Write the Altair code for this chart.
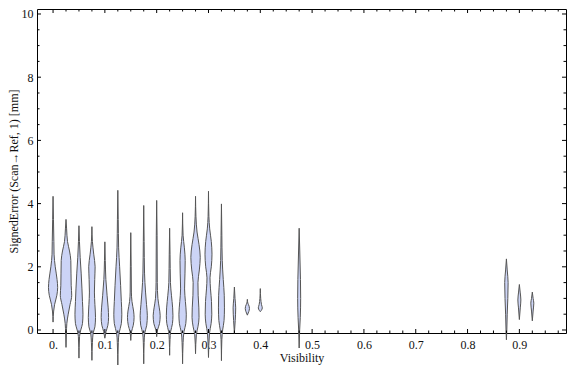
import altair as alt
import pandas as pd

# Visibility bins (x positions of the violins)
visibility = [0.0, 0.025, 0.05, 0.075, 0.1, 0.125, 0.15, 0.175, 0.2, 0.225, 0.25,
              0.275, 0.3, 0.325, 0.35, 0.375, 0.4, 0.475, 0.875, 0.9, 0.925]

# violin outline knots: SignedError values (mm)
violin_y = [
    [4.23, 3.5, 2.8, 2.4, 2.0, 1.6, 1.35, 1.1, 0.8, 0.6, 0.25],
    [3.5, 3.2, 2.8, 2.5, 2.2, 1.8, 1.4, 1.1, 0.8, 0.5, 0.2, -0.1, -0.55],
    [3.3, 2.8, 2.3, 1.8, 1.3, 0.9, 0.5, 0.2, 0.0, -0.2, -0.89],
    [3.27, 2.8, 2.4, 2.0, 1.6, 1.2, 0.8, 0.4, 0.1, -0.1, -0.4, -0.96],
    [2.79, 2.2, 1.6, 1.1, 0.7, 0.4, 0.15, -0.05, -0.26],
    [4.42, 3.5, 2.6, 2.0, 1.4, 0.9, 0.5, 0.2, -0.1, -0.4, -1.17],
    [3.08, 2.0, 1.2, 0.9, 0.6, 0.4, 0.15, -0.05, -0.33],
    [3.94, 2.8, 1.8, 1.2, 0.8, 0.45, 0.15, -0.1, -0.4, -1.07],
    [4.1, 3.0, 1.5, 1.0, 0.7, 0.45, 0.2, 0.0, -0.21],
    [3.22, 2.4, 1.5, 1.1, 0.7, 0.45, 0.2, -0.05, -0.3, -0.8],
    [3.71, 3.0, 2.6, 2.2, 1.8, 1.3, 0.9, 0.5, 0.2, -0.05, -0.4, -1.07],
    [4.23, 3.6, 3.1, 2.7, 2.3, 1.9, 1.5, 1.1, 0.7, 0.4, 0.1, -0.15, -0.75],
    [4.39, 3.6, 3.2, 2.8, 2.4, 2.0, 1.65, 1.3, 0.9, 0.5, 0.2, -0.1, -0.87],
    [3.99, 3.0, 2.2, 1.6, 1.1, 0.7, 0.3, 0.0, -0.3, -0.97],
    [1.36, 1.0, 0.7, 0.3, -0.1],
    [0.97, 0.85, 0.75, 0.68, 0.58, 0.47],
    [1.31, 1.0, 0.8, 0.7, 0.62, 0.58],
    [3.22, 2.5, 1.6, 1.0, 0.4, 0.0, -0.57],
    [2.25, 1.9, 1.5, 1.0, 0.5, 0.0, -0.31],
    [1.44, 1.2, 0.95, 0.7, 0.33],
    [1.2, 1.0, 0.85, 0.6, 0.29],
]

# violin half-widths (relative density) at those knots
violin_w = [
    [0, 0.4, 0.8, 1.0, 2.2, 4.0, 4.6, 3.8, 1.5, 0.6, 0],
    [0, 0.6, 1.5, 3.5, 4.8, 5.0, 5.2, 5.7, 4.0, 2.2, 0.8, 0.4, 0],
    [0, 0.5, 1.2, 2.2, 3.0, 3.5, 4.0, 3.5, 1.8, 0.6, 0],
    [0, 0.5, 1.8, 3.2, 2.8, 2.5, 3.0, 3.6, 3.0, 1.2, 0.5, 0],
    [0, 0.4, 1.0, 2.2, 3.3, 3.7, 3.0, 1.2, 0],
    [0, 0.4, 0.8, 1.8, 2.8, 3.5, 4.0, 3.5, 1.2, 0.5, 0],
    [0, 0.4, 0.6, 1.2, 2.8, 3.3, 2.5, 0.8, 0],
    [0, 0.4, 0.8, 1.8, 2.8, 3.6, 3.0, 1.0, 0.4, 0],
    [0, 0.4, 0.6, 1.2, 2.6, 3.5, 2.8, 0.8, 0],
    [0, 0.4, 0.8, 1.8, 3.0, 3.3, 2.8, 1.0, 0.4, 0],
    [0, 0.5, 1.8, 2.6, 2.4, 2.0, 2.8, 3.7, 3.2, 1.4, 0.5, 0],
    [0, 0.4, 1.5, 3.5, 4.7, 3.8, 2.4, 2.6, 3.3, 3.5, 2.4, 0.8, 0],
    [0, 0.4, 1.2, 2.8, 3.5, 2.8, 1.5, 2.0, 3.0, 3.3, 2.6, 1.0, 0],
    [0, 0.4, 0.8, 1.8, 2.8, 3.0, 2.6, 1.2, 0.4, 0],
    [0, 0.6, 1.3, 0.8, 0],
    [0, 0.5, 1.8, 2.1, 1.4, 0],
    [0, 0.4, 1.2, 2.0, 1.0, 0],
    [0, 0.6, 1.3, 1.5, 1.1, 0.5, 0],
    [0, 0.8, 1.7, 1.4, 0.8, 0.4, 0],
    [0, 0.8, 1.5, 0.9, 0],
    [0, 0.8, 1.5, 0.8, 0],
]

x_labels = [0.0, 0.1, 0.2, 0.3, 0.4, 0.5, 0.6, 0.7, 0.8, 0.9]
x_minor = [0.025, 0.05, 0.075, 0.125, 0.15, 0.175, 0.225, 0.25, 0.275, 0.325, 0.35,
           0.375, 0.425, 0.45, 0.475, 0.525, 0.55, 0.575, 0.625, 0.65, 0.675,
           0.725, 0.75, 0.775, 0.825, 0.85, 0.875, 0.925, 0.95, 0.975]
y_major = [0, 2, 4, 6, 8, 10]
y_minor = [0.5, 1, 1.5, 2.5, 3, 3.5, 4.5, 5, 5.5, 6.5, 7, 7.5, 8.5, 9, 9.5]

W, H = 529, 324
WIDTH_SCALE = 0.00193  # relative density -> visibility units

rows = []
for g, (c, ys, ws) in enumerate(zip(visibility, violin_y, violin_w)):
    for y, w in zip(ys, ws):
        rows.append({"g": g, "c": c, "y": y, "w": w})
df = pd.DataFrame(rows)

xscale = alt.Scale(domain=[-0.031, 0.99], nice=False, zero=False)
yscale = alt.Scale(domain=[-0.095, 10.158], nice=False, zero=False)

FONT = "Liberation Serif"

x_axis = alt.Axis(values=x_labels, ticks=False, domain=False, grid=False,
                  labelExpr="datum.value == 0 ? '0.' : format(datum.value, '.1f')",
                  labelPadding=6, title="Visibility", titlePadding=2)
y_axis = alt.Axis(values=y_major, format="d", ticks=False, domain=False,
                  grid=False, labelPadding=4,
                  title="SignedError (Scan\u2192Ref, 1) [mm]", titlePadding=1)

violins = alt.Chart(df).transform_calculate(
    xl=f"datum.c - datum.w * {WIDTH_SCALE}",
    xr=f"datum.c + datum.w * {WIDTH_SCALE}",
).mark_area(
    orient="horizontal", interpolate="monotone",
    fill="#CCD4F6", stroke="#555555", strokeWidth=1, clip=False,
).encode(
    y=alt.Y("y:Q", scale=yscale, axis=y_axis),
    x=alt.X("xl:Q", scale=xscale, axis=x_axis),
    x2="xr:Q",
    detail="g:N",
)

def xticks(vals, length, top):
    d = pd.DataFrame({"t": vals})
    if top:
        yy, yy2 = 0, length
    else:
        yy, yy2 = H, H - length
    return alt.Chart(d).mark_rule(color="black", strokeWidth=1).encode(
        x=alt.X("t:Q", scale=xscale, axis=x_axis),
        y=alt.value(yy), y2=alt.value(yy2))

def yticks(vals, length, right):
    d = pd.DataFrame({"t": vals})
    if right:
        xx, xx2 = W, W - length
    else:
        xx, xx2 = 0, length
    return alt.Chart(d).mark_rule(color="black", strokeWidth=1).encode(
        y=alt.Y("t:Q", scale=yscale, axis=y_axis),
        x=alt.value(xx), x2=alt.value(xx2))

chart = alt.layer(
    violins,
    xticks(x_labels, 4, False), xticks(x_minor, 2.5, False),
    xticks(x_labels, 4, True), xticks(x_minor, 2.5, True),
    yticks(y_major, 4, False), yticks(y_minor, 2.5, False),
    yticks(y_major, 4, True), yticks(y_minor, 2.5, True),
).properties(
    width=W, height=H,
    autosize=alt.AutoSizeParams(type="none"),
    padding={"left": 29, "top": 1, "right": 2, "bottom": 32},
).configure_view(
    stroke="black", strokeWidth=1
).configure_axis(
    labelFont=FONT, titleFont=FONT, labelFontSize=12, titleFontSize=12,
    labelColor="#111111", titleColor="#111111", titleFontWeight="normal",
)

chart.save("out.html", embed_options={"renderer": "svg", "actions": False})
